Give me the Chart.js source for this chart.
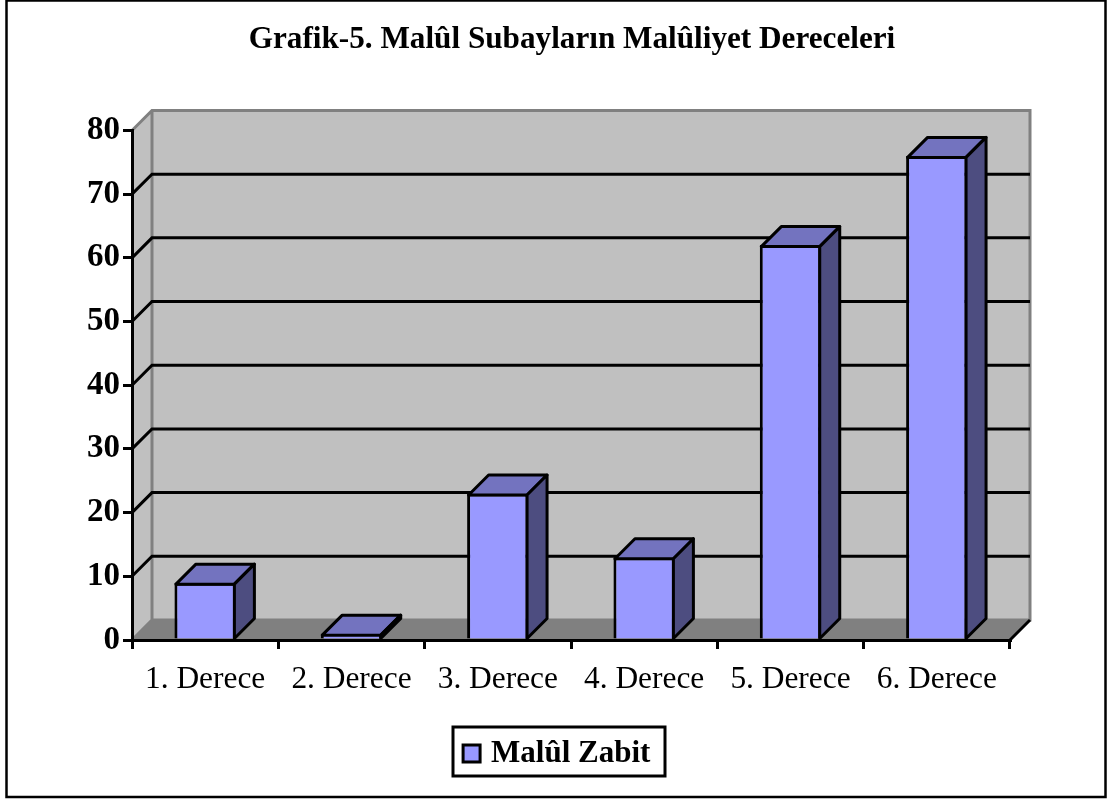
<!DOCTYPE html>
<html lang="tr">
<head>
  <meta charset="UTF-8">
  <title>Grafik-5</title>
  <script src="https://cdn.jsdelivr.net/npm/chart.js"></script>
  <style>
    html, body { margin: 0; padding: 0; background: #fff; }
    #wrap { width: 1107px; height: 800px; }
  </style>
</head>
<body>
  <div id="wrap"><canvas id="chart" width="1107" height="800"></canvas></div>
  <script>
    const categories = ['1. Derece', '2. Derece', '3. Derece', '4. Derece', '5. Derece', '6. Derece'];
    const seriesName = 'Malûl Zabit';
    const seriesValues = [9, 1, 23, 13, 62, 76];
    const titleText = 'Grafik-5. Malûl Subayların Malûliyet Dereceleri';
    const yMax = 80;
    const yStep = 10;

    const serif = "'Liberation Serif', 'Times New Roman', serif";
    const depthX = 20;
    const depthY = 20;

    // 3D look of the old Excel chart: walls first, bar sides after the bars
    const walls = {
      id: 'walls',
      afterLayout(chart) {
        // legend sits left of the title's centre in the original
        chart.legend.left -= 13;
        chart.legend.right -= 13;
      },
      beforeDraw(chart) {
        const c = chart.ctx;
        const { left, right, top, bottom } = chart.chartArea;
        const y = chart.scales.y;

        c.save();
        c.fillStyle = '#fff';
        c.fillRect(0, 0, chart.width, chart.height);

        c.strokeStyle = '#000';
        c.lineWidth = 2.5;
        c.strokeRect(6.5, 0.5, 1099, 796.5);

        // back and side wall
        c.fillStyle = '#c0c0c0';
        c.fillRect(left + depthX, top - depthY, right - left, bottom - top);
        c.beginPath();
        c.moveTo(left, top);
        c.lineTo(left + depthX, top - depthY);
        c.lineTo(left + depthX, bottom - depthY);
        c.lineTo(left, bottom);
        c.closePath();
        c.fill();

        // floor
        c.fillStyle = '#808080';
        c.beginPath();
        c.moveTo(left, bottom);
        c.lineTo(left + depthX, bottom - depthY);
        c.lineTo(right + depthX, bottom - depthY);
        c.lineTo(right, bottom);
        c.closePath();
        c.fill();

        // wall edges
        c.strokeStyle = '#808080';
        c.lineWidth = 3;
        c.beginPath();
        c.moveTo(left, top);
        c.lineTo(left + depthX, top - depthY);
        c.lineTo(right + depthX, top - depthY);
        c.lineTo(right + depthX, bottom - depthY);
        c.lineTo(left + depthX, bottom - depthY);
        c.lineTo(left, bottom);
        c.moveTo(left + depthX, top - depthY);
        c.lineTo(left + depthX, bottom - depthY);
        c.stroke();

        c.strokeStyle = '#000';
        c.beginPath();
        c.moveTo(right, bottom);
        c.lineTo(right + depthX, bottom - depthY);
        c.stroke();

        // grid lines on side and back wall
        y.ticks.forEach(t => {
          if (t.value === 0 || t.value === yMax) return;
          const py = y.getPixelForValue(t.value);
          c.beginPath();
          c.moveTo(left, py);
          c.lineTo(left + depthX, py - depthY);
          c.lineTo(right + depthX, py - depthY);
          c.stroke();
        });

        // legend frame
        c.strokeRect(453, 727, 212, 49);
        c.restore();
      }
    };

    const barSides = {
      id: 'barSides',
      afterDatasetsDraw(chart) {
        const c = chart.ctx;
        c.save();
        c.strokeStyle = '#000';
        c.lineWidth = 3;
        c.lineJoin = 'round';
        chart.getDatasetMeta(0).data.forEach(bar => {
          const x0 = bar.x - bar.width / 2 + 1.5;
          const x1 = bar.x + bar.width / 2 - 1.5;
          const yTop = bar.y + 1.5;
          const yBase = bar.base;

          c.fillStyle = '#7373bf';
          c.beginPath();
          c.moveTo(x0, yTop);
          c.lineTo(x0 + depthX, yTop - depthY);
          c.lineTo(x1 + depthX, yTop - depthY);
          c.lineTo(x1, yTop);
          c.closePath();
          c.fill();
          c.stroke();

          c.fillStyle = '#4d4d80';
          c.beginPath();
          c.moveTo(x1, yTop);
          c.lineTo(x1 + depthX, yTop - depthY);
          c.lineTo(x1 + depthX, yBase - depthY);
          c.lineTo(x1, yBase);
          c.closePath();
          c.fill();
          c.stroke();
        });
        c.restore();
      }
    };

    new Chart(document.getElementById('chart'), {
      type: 'bar',
      data: {
        labels: categories,
        datasets: [{
          label: seriesName,
          data: seriesValues,
          backgroundColor: '#9999ff',
          borderColor: '#000',
          borderWidth: 3,
          borderSkipped: 'bottom',
          barPercentage: 0.42,
          categoryPercentage: 1
        }]
      },
      options: {
        responsive: false,
        animation: false,
        layout: { padding: { left: 37, right: 0, top: 0, bottom: 21 } },
        plugins: {
          title: {
            display: true,
            text: titleText,
            color: '#000',
            font: { family: serif, size: 31.2, weight: 'bold' },
            padding: { top: 21, bottom: 72 }
          },
          legend: {
            position: 'bottom',
            labels: {
              color: '#000',
              font: { family: serif, size: 31, weight: 'bold' },
              usePointStyle: true,
              boxWidth: 8,
              boxHeight: 17,
              padding: 8,
              generateLabels: () => [{
                text: seriesName,
                fillStyle: '#9999ff',
                strokeStyle: '#000',
                lineWidth: 3,
                pointStyle: 'rect',
                hidden: false,
                datasetIndex: 0
              }]
            }
          },
          tooltip: { enabled: false }
        },
        scales: {
          x: {
            grid: { drawOnChartArea: false, color: '#000', lineWidth: 3, tickLength: 9 },
            border: { color: '#000', width: 3, z: 1 },
            ticks: {
              color: '#000',
              maxRotation: 0,
              padding: 12,
              font: { family: serif, size: 31.4 }
            },
            afterFit(scale) { scale.height = 90; }
          },
          y: {
            min: 0,
            max: yMax,
            ticks: {
              stepSize: yStep,
              color: '#000',
              padding: 3,
              font: { family: serif, size: 33, weight: 'bold' }
            },
            grid: { drawOnChartArea: false, color: '#000', lineWidth: 3, tickLength: 9 },
            border: { color: '#000', width: 3 },
            afterFit(scale) { scale.width = 95; }
          },
          // empty axis, only keeps the plot clear of the right edge
          spacer: {
            axis: 'y',
            position: 'right',
            ticks: { display: false },
            grid: { display: false },
            border: { display: false },
            afterFit(scale) { scale.width = 97; }
          }
        }
      },
      plugins: [walls, barSides]
    });
  </script>
</body>
</html>
